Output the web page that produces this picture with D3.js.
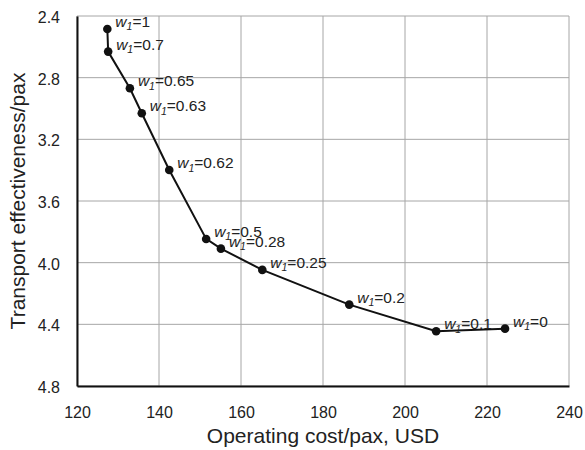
<!DOCTYPE html>
<html>
<head>
<meta charset="utf-8">
<script src="https://cdn.jsdelivr.net/npm/d3@7"></script>
<style>
  html, body { margin: 0; padding: 0; background: #fff; }
  text { font-family: "Liberation Sans", Arial, sans-serif; fill: #222; }
</style>
</head>
<body>
<svg id="chart" width="585" height="450"></svg>
<script>
// Data
const weights = ["1", "0.7", "0.65", "0.63", "0.62", "0.5", "0.28", "0.25", "0.2", "0.1", "0"];
const costs = [127.4, 127.6, 132.9, 135.8, 142.5, 151.5, 155.1, 165.2, 186.4, 207.6, 224.4];
const effectiveness = [2.484, 2.631, 2.869, 3.031, 3.399, 3.846, 3.909, 4.047, 4.272, 4.445, 4.428];
const xTicks = [120, 140, 160, 180, 200, 220, 240];
const yTicks = [2.4, 2.8, 3.2, 3.6, 4.0, 4.4, 4.8];
const xTitle = "Operating cost/pax, USD";
const yTitle = "Transport effectiveness/pax";

const W = 585, H = 450;
const margin = { top: 16, right: 16, bottom: 64, left: 77 };
const svg = d3.select("#chart");

const x = d3.scaleLinear().domain([120, 240]).range([margin.left, W - margin.right]);
const y = d3.scaleLinear().domain([2.4, 4.8]).range([margin.top, H - margin.bottom]);

const points = costs.map((c, i) => ({ x: c, y: effectiveness[i], w: weights[i] }));

// Grid
const grid = svg.append("g");
grid.selectAll("line.v").data(xTicks).join("line")
  .attr("x1", d => x(d)).attr("x2", d => x(d))
  .attr("y1", y(2.4)).attr("y2", y(4.8))
  .attr("stroke", "#a6a6a6").attr("stroke-width", 1);
grid.selectAll("line.h").data(yTicks).join("line")
  .attr("y1", d => y(d)).attr("y2", d => y(d))
  .attr("x1", x(120)).attr("x2", x(240))
  .attr("stroke", "#a6a6a6").attr("stroke-width", 1);

// Axes
const xAxis = d3.axisBottom(x).tickValues(xTicks).tickSize(0).tickPadding(0).tickFormat(d3.format("d"));
const gx = svg.append("g").attr("transform", `translate(0,${y(4.8)})`).call(xAxis);
gx.select(".domain").attr("stroke", "#111").attr("stroke-width", 2);
gx.selectAll(".tick text").attr("font-size", 16).attr("dy", 0).attr("y", 32)
  .style("font-family", '"Liberation Sans", Arial, sans-serif').attr("fill", "#222");

const yAxis = d3.axisLeft(y).tickValues(yTicks).tickSize(0).tickPadding(0).tickFormat(d3.format(".1f"));
const gy = svg.append("g").attr("transform", `translate(${x(120)},0)`).call(yAxis);
gy.select(".domain").attr("stroke", "#111").attr("stroke-width", 2);
gy.selectAll(".tick text").attr("font-size", 16).attr("x", -17).attr("dy", "0.4em")
  .style("font-family", '"Liberation Sans", Arial, sans-serif').attr("fill", "#222");

// Line
const line = d3.line().x(d => x(d.x)).y(d => y(d.y));
svg.append("path").datum(points)
  .attr("d", line).attr("fill", "none")
  .attr("stroke", "#111").attr("stroke-width", 2);

// Points
svg.selectAll("circle.pt").data(points).join("circle")
  .attr("cx", d => x(d.x)).attr("cy", d => y(d.y)).attr("r", 4.3)
  .attr("fill", "#111");

// Labels
const lbl = svg.selectAll("text.lbl").data(points).join("text")
  .attr("class", "lbl")
  .attr("x", d => x(d.x) + 8).attr("y", d => y(d.y) - 2)
  .attr("font-size", 15.5).attr("fill", "#333");
lbl.append("tspan").attr("font-style", "italic").text("w");
lbl.append("tspan").attr("font-style", "italic").attr("font-size", 10.5).attr("dy", 3.5).text("1");
lbl.append("tspan").attr("dy", -3.5).text(d => "=" + d.w);

// Titles
svg.append("text")
  .attr("x", (x(120) + x(240)) / 2).attr("y", 443)
  .attr("text-anchor", "middle").attr("font-size", 21)
  .text(xTitle);
svg.append("text")
  .attr("transform", `translate(25,${(y(2.4) + y(4.8)) / 2}) rotate(-90)`)
  .attr("text-anchor", "middle").attr("font-size", 21)
  .text(yTitle);
</script>
</body>
</html>
